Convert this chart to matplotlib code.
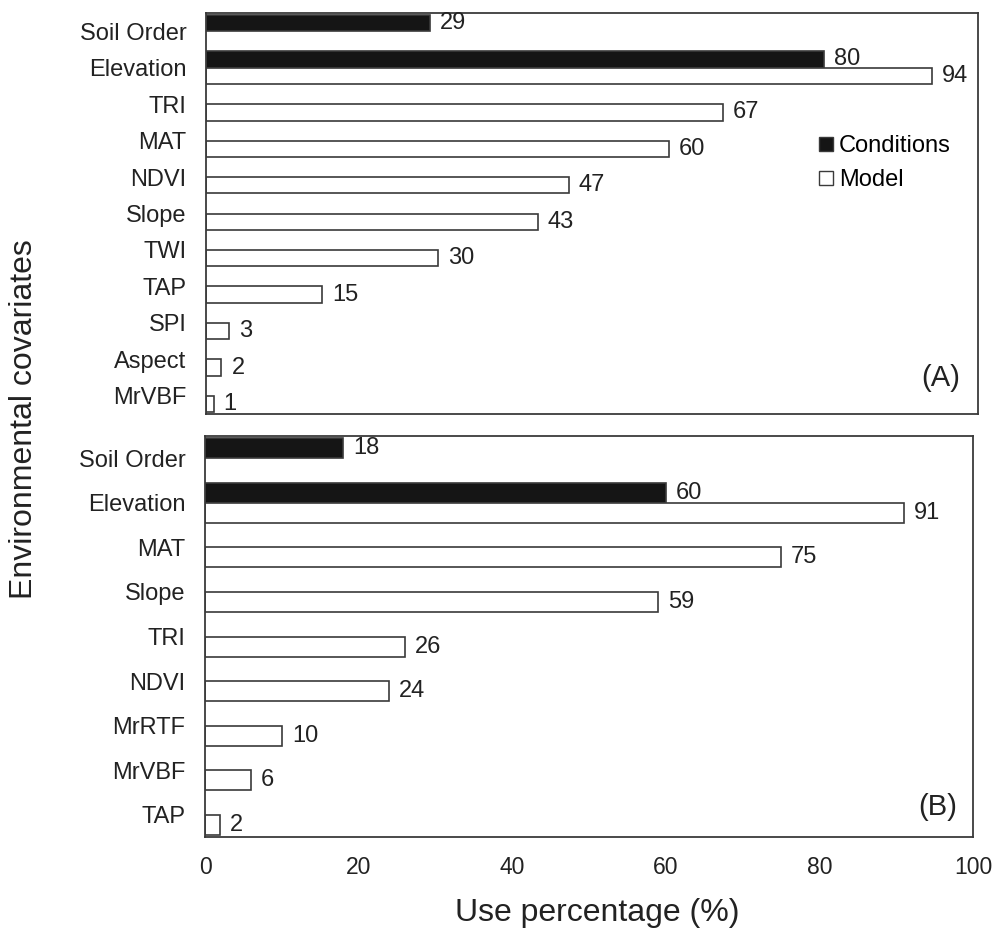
#plot use percentage of environmental covariates (conditions vs model)
import numpy as np
import matplotlib
matplotlib.use("Agg")
import matplotlib.pyplot as plt
from matplotlib.lines import Line2D

plt.rcParams['font.family'] = ['Liberation Sans', 'DejaVu Sans']

#data-----------------------------------------------------------------------------------------
#panel (A)
covariates_a = ["Soil Order", "Elevation", "TRI", "MAT", "NDVI", "Slope", "TWI", "TAP", "SPI", "Aspect", "MrVBF"]
conditions_a = [29, 80, None, None, None, None, None, None, None, None, None]
model_a = [None, 94, 67, 60, 47, 43, 30, 15, 3, 2, 1]

#panel (B)
covariates_b = ["Soil Order", "Elevation", "MAT", "Slope", "TRI", "NDVI", "MrRTF", "MrVBF", "TAP"]
conditions_b = [18, 60, None, None, None, None, None, None, None]
model_b = [None, 91, 75, 59, 26, 24, 10, 6, 2]

xticks = [0, 20, 40, 60, 80, 100]

#style
edge = "#3a3a3a"
fs = 17
barh = 0.45

#definition
def drawPanel(ax, names, cond, model, tag, tagpos, showx=False):
    """Draws one clustered horizontal bar panel with value labels"""
    y = np.arange(len(names))
    for i in range(len(names)):
        if cond[i] is not None:
            ax.barh(y[i] - barh/2, cond[i], height=barh, color="#151515", edgecolor=edge, linewidth=1.2)
            ax.annotate(str(cond[i]), (cond[i], y[i] - barh/2), xytext=(10, 0), textcoords="offset pixels",
                        va="center", ha="left", fontsize=fs, color="#222222")
        if model[i] is not None:
            ax.barh(y[i] + barh/2, model[i], height=barh, color="white", edgecolor=edge, linewidth=1.2)
            ax.annotate(str(model[i]), (model[i], y[i] + barh/2), xytext=(10, 0), textcoords="offset pixels",
                        va="center", ha="left", fontsize=fs, color="#222222")
    ax.set_ylim(len(names) - 0.5, -0.5)
    ax.set_xlim(0, 100)
    ax.set_yticks(y)
    ax.set_yticklabels(names, fontsize=fs, color="#222222")
    ax.tick_params(axis="y", length=0, pad=14)
    ax.set_xticks(xticks)
    if showx:
        ax.tick_params(axis="x", length=0, pad=14, labelsize=16.5, labelcolor="#222222")
    else:
        ax.tick_params(axis="x", length=0, labelbottom=False)
    for s in ax.spines.values():
        s.set_color(edge)
        s.set_linewidth(1.3)
    ax.text(tagpos[0], tagpos[1], tag, transform=ax.transAxes, ha="right", va="center", fontsize=21, color="#222222")

#plots----------------------------------------------------------------------------------------
fig = plt.figure(figsize=(9.94, 9.31), dpi=100)
ax_a = fig.add_axes([206/994, 1 - 414/931, 772/994, 401/931])
ax_b = fig.add_axes([205/994, 1 - 837/931, 768/994, 401/931])

drawPanel(ax_a, covariates_a, conditions_a, model_a, "(A)", (0.977, 0.09))
drawPanel(ax_b, covariates_b, conditions_b, model_b, "(B)", (0.979, 0.075), showx=True)

#legend in panel A
handles = [Line2D([], [], marker="s", linestyle="none", markersize=10.5, markerfacecolor="#151515", markeredgecolor=edge),
           Line2D([], [], marker="s", linestyle="none", markersize=10.5, markerfacecolor="white", markeredgecolor=edge)]
ax_a.legend(handles, ["Conditions", "Model"], loc="upper left", bbox_to_anchor=(0.792, 0.695), frameon=False,
            fontsize=fs, handlelength=0.75, handletextpad=0.15, labelspacing=0.5, borderpad=0, borderaxespad=0)

#axis titles
fig.text(24/994, 1 - 419/931, "Environmental covariates", rotation=90, ha="center", va="center", fontsize=23, color="#222222")
fig.text(597/994, 1 - 913/931, "Use percentage (%)", ha="center", va="center", fontsize=23, color="#222222")

plt.savefig("out.png", dpi=100)
plt.close()
